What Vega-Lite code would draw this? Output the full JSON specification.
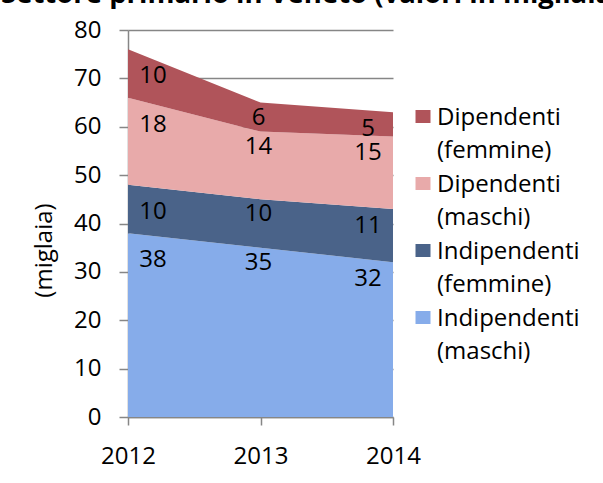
{
  "$schema": "https://vega.github.io/schema/vega-lite/v6.json",
  "width": 265,
  "height": 387,
  "autosize": {"type": "none"},
  "padding": {"left": 128, "top": 30, "right": 210, "bottom": 66},
  "background": "white",
  "title": {
    "text": "Settore primario in Veneto (valori in migliaia)",
    "anchor": "start",
    "frame": "group",
    "fontSize": 27.5,
    "fontWeight": "bold",
    "font": "Open Sans",
    "color": "black",
    "dx": -127,
    "offset": -12,
    "baseline": "alphabetic"
  },
  "data": {
    "values": [
      {"anno": 2012, "serie": "Indipendenti (maschi)", "valore": 38},
      {"anno": 2012, "serie": "Indipendenti (femmine)", "valore": 10},
      {"anno": 2012, "serie": "Dipendenti (maschi)", "valore": 18},
      {"anno": 2012, "serie": "Dipendenti (femmine)", "valore": 10},
      {"anno": 2013, "serie": "Indipendenti (maschi)", "valore": 35},
      {"anno": 2013, "serie": "Indipendenti (femmine)", "valore": 10},
      {"anno": 2013, "serie": "Dipendenti (maschi)", "valore": 14},
      {"anno": 2013, "serie": "Dipendenti (femmine)", "valore": 6},
      {"anno": 2014, "serie": "Indipendenti (maschi)", "valore": 32},
      {"anno": 2014, "serie": "Indipendenti (femmine)", "valore": 11},
      {"anno": 2014, "serie": "Dipendenti (maschi)", "valore": 15},
      {"anno": 2014, "serie": "Dipendenti (femmine)", "valore": 5}
    ]
  },
  "transform": [
    {"stack": "valore", "groupby": ["anno"], "sort": [{"field": "serie", "order": "descending"}], "as": ["y0", "y1"]}
  ],
  "layer": [
    {
      "mark": {"type": "area", "opacity": 1},
      "encoding": {
        "x": {
          "field": "anno", "type": "ordinal",
          "scale": {"type": "point", "padding": 0},
          "axis": {
            "title": null, "grid": false, "labelAngle": 0,
            "labelOverlap": false, "tickSize": 8, "labelPadding": 19
          }
        },
        "y": {
          "field": "y1", "type": "quantitative",
          "scale": {"domain": [0, 80], "nice": false},
          "axis": {
            "values": [0, 10, 20, 30, 40, 50, 60, 70, 80], "title": "(miglaia)",
            "grid": true, "tickSize": 9, "labelPadding": 18, "titlePadding": 17,
            "titleY": 220
          }
        },
        "y2": {"field": "y0"},
        "color": {
          "field": "serie", "type": "nominal",
          "scale": {
            "domain": ["Dipendenti (femmine)", "Dipendenti (maschi)", "Indipendenti (femmine)", "Indipendenti (maschi)"],
            "range": ["#b0545a", "#e8aaaa", "#4a6389", "#86acea"]
          },
          "legend": {
            "orient": "none", "legendX": 283, "legendY": 76, "title": null,
            "labelExpr": "split(datum.label, ' ')",
            "labelFontSize": 24, "labelFont": "Open Sans", "labelColor": "black", "labelLimit": 400,
            "symbolType": "M-1,-1.07H1V0.67H-1Z", "symbolSize": 225, "symbolStrokeWidth": 0,
            "symbolOpacity": 1,
            "rowPadding": 10, "labelOffset": 2, "padding": 0
          }
        }
      }
    },
    {
      "transform": [{"filter": "datum.anno == 2012"}],
      "mark": {"type": "text", "dx": 25, "dy": 27, "fontSize": 24, "font": "Open Sans", "color": "black"},
      "encoding": {
        "x": {"field": "anno", "type": "ordinal"},
        "y": {"field": "y1", "type": "quantitative"},
        "text": {"field": "valore"}
      }
    },
    {
      "transform": [{"filter": "datum.anno == 2013"}],
      "mark": {"type": "text", "dx": -2, "dy": 15, "fontSize": 24, "font": "Open Sans", "color": "black"},
      "encoding": {
        "x": {"field": "anno", "type": "ordinal"},
        "y": {"field": "y1", "type": "quantitative"},
        "text": {"field": "valore"}
      }
    },
    {
      "transform": [{"filter": "datum.anno == 2014"}],
      "mark": {"type": "text", "dx": -25, "dy": 17, "fontSize": 24, "font": "Open Sans", "color": "black"},
      "encoding": {
        "x": {"field": "anno", "type": "ordinal"},
        "y": {"field": "y1", "type": "quantitative"},
        "text": {"field": "valore"}
      }
    }
  ],
  "config": {
    "view": {"stroke": null},
    "font": "Open Sans",
    "axis": {
      "labelFont": "Open Sans", "labelFontSize": 24, "labelColor": "black",
      "titleFont": "Open Sans", "titleFontSize": 24, "titleFontWeight": "normal", "titleColor": "black",
      "domainColor": "#868686", "domainWidth": 1.5,
      "tickColor": "#868686", "tickWidth": 1.5,
      "gridColor": "#868686", "gridWidth": 1.5, "gridOpacity": 1
    },
    "style": {"guide-label": {"lineHeight": 33}}
  }
}
